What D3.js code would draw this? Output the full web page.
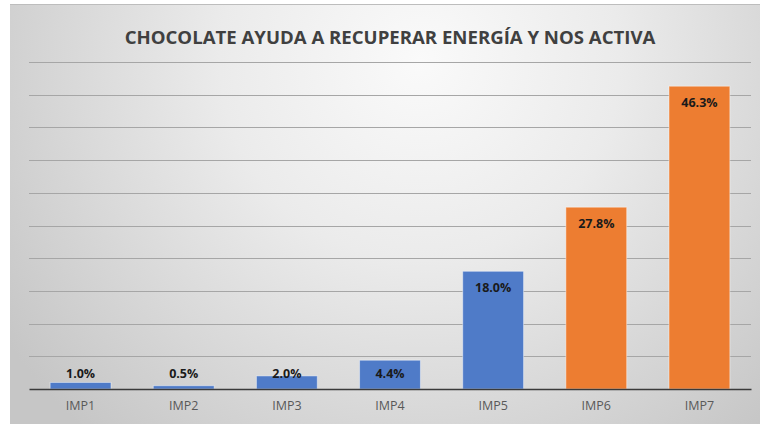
<!DOCTYPE html>
<html>
<head>
<meta charset="utf-8">
<script src="https://cdn.jsdelivr.net/npm/d3@7"></script>
<style>
  body { margin: 0; background: #fff; }
  svg { display: block; }
</style>
</head>
<body>
<div id="chart"></div>
<script>
// datos del gráfico
const categories = ["IMP1", "IMP2", "IMP3", "IMP4", "IMP5", "IMP6", "IMP7"];
const values = [1.0, 0.5, 2.0, 4.4, 18.0, 27.8, 46.3];
const barColors = ["#4f7bc8", "#4f7bc8", "#4f7bc8", "#4f7bc8", "#4f7bc8", "#ed7d31", "#ed7d31"];
const yTicks = [0, 5, 10, 15, 20, 25, 30, 35, 40, 45, 50];
const title = "CHOCOLATE AYUDA A RECUPERAR ENERGÍA Y NOS ACTIVA";

const width = 760, height = 424;
const margin = { top: 62, right: 9, bottom: 35, left: 29 };
const font = "'Open Sans', 'Noto Sans', sans-serif";

const svg = d3.select("#chart").append("svg")
  .attr("width", width)
  .attr("height", height);

// fondo con degradado (estilo Excel)
const defs = svg.append("defs");
const grad = defs.append("radialGradient")
  .attr("id", "bg")
  .attr("gradientUnits", "userSpaceOnUse")
  .attr("cx", 420).attr("cy", 60).attr("r", 500);
grad.append("stop").attr("offset", "0%").attr("stop-color", "#fafafa");
grad.append("stop").attr("offset", "40%").attr("stop-color", "#ebebeb");
grad.append("stop").attr("offset", "100%").attr("stop-color", "#c6c6c6");

svg.append("rect")
  .attr("x", 10).attr("y", 4)
  .attr("width", width - 10).attr("height", height - 4)
  .attr("fill", "url(#bg)");
svg.append("line")
  .attr("x1", 10).attr("x2", width)
  .attr("y1", 4.5).attr("y2", 4.5)
  .attr("stroke", "#bdbdbd");

// escalas
const x = d3.scaleBand()
  .domain(categories)
  .range([margin.left, width - margin.right])
  .paddingInner(0.41)
  .paddingOuter(0.205);
const y = d3.scaleLinear()
  .domain([0, 50])
  .range([height - margin.bottom, margin.top]);

// líneas de cuadrícula
svg.append("g")
  .selectAll("line")
  .data(yTicks.slice(1))
  .enter().append("line")
  .attr("x1", margin.left).attr("x2", width - margin.right)
  .attr("y1", d => Math.round(y(d)) + 0.5)
  .attr("y2", d => Math.round(y(d)) + 0.5)
  .attr("stroke", "#a6a6a6")
  .attr("stroke-width", 1);

// barras
svg.append("g")
  .selectAll("rect")
  .data(values)
  .enter().append("rect")
  .attr("x", (d, i) => x(categories[i]))
  .attr("width", x.bandwidth())
  .attr("y", d => y(d))
  .attr("height", d => y(0) - y(d))
  .attr("fill", (d, i) => barColors[i])
  .attr("stroke", "rgba(255,255,255,0.45)")
  .attr("stroke-width", 1);

// eje X
const xAxis = svg.append("g")
  .attr("transform", `translate(0,${y(0)})`)
  .call(d3.axisBottom(x).tickSize(0).tickPadding(12));
xAxis.select(".domain")
  .attr("stroke", "#3a3a3a")
  .attr("stroke-width", 1.5);
xAxis.selectAll("text")
  .attr("font-family", font)
  .attr("font-size", 12.5)
  .attr("fill", "#595959");

// etiquetas de datos
svg.append("g")
  .selectAll("text")
  .data(values)
  .enter().append("text")
  .attr("x", (d, i) => x(categories[i]) + x.bandwidth() / 2)
  .attr("y", d => Math.min(y(d) + 16, y(0) - 15))
  .attr("dy", "0.35em")
  .attr("text-anchor", "middle")
  .attr("font-family", font)
  .attr("font-size", 12.5)
  .attr("font-weight", "bold")
  .attr("fill", "#1a1a1a")
  .text(d => d.toFixed(1) + "%");

// título
svg.append("text")
  .attr("x", 390)
  .attr("y", 37)
  .attr("dy", "0.35em")
  .attr("text-anchor", "middle")
  .attr("font-family", font)
  .attr("font-size", 18.6)
  .attr("font-weight", "bold")
  .attr("fill", "#404040")
  .text(title);
</script>
</body>
</html>
